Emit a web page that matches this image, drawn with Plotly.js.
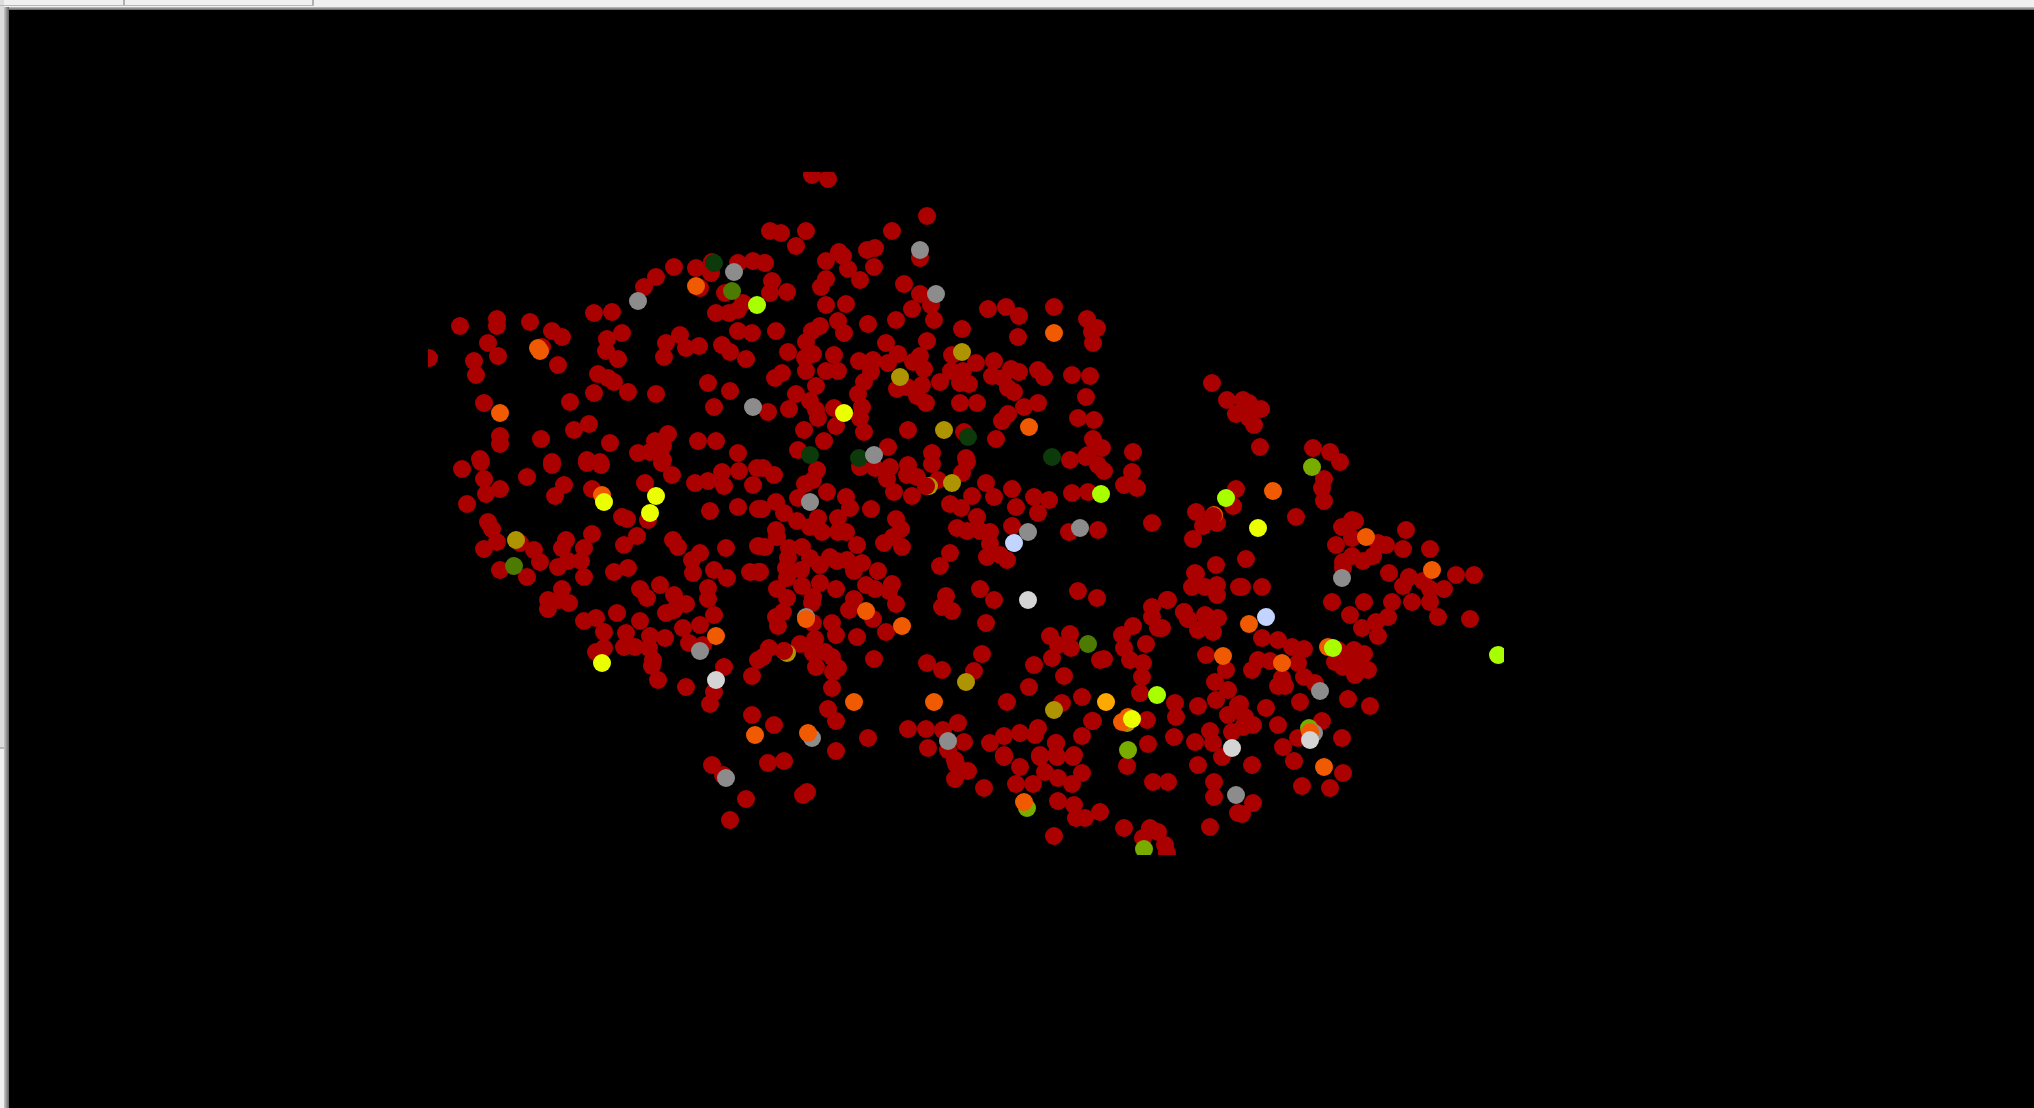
<!DOCTYPE html>
<html><head><meta charset="utf-8">
<script src="https://cdn.plot.ly/plotly-3.0.1.min.js"></script>
<style>
html,body{margin:0;padding:0;width:2034px;height:1108px;overflow:hidden;background:#f0f0f0}
.a{position:absolute}
#plot{position:absolute;left:9px;top:10px;width:2025px;height:1098px}
</style></head><body>
<div class="a" style="left:0;top:0;width:4px;height:747px;background:#dcdcdc"></div>
<div class="a" style="left:0;top:747px;width:4px;height:2px;background:#b8b8b8"></div>
<div class="a" style="left:123px;top:0;width:2px;height:6px;background:#b0b0b0"></div>
<div class="a" style="left:312px;top:0;width:2px;height:6px;background:#b0b0b0"></div>
<div class="a" style="left:0;top:5px;width:314px;height:1px;background:#b8b8b8"></div>
<div class="a" style="left:4px;top:7px;width:2030px;height:3px;background:linear-gradient(#c4c4c4,#606060)"></div>
<div class="a" style="left:4px;top:7px;width:5px;height:1101px;background:linear-gradient(90deg,#c8c8c8,#606060)"></div>
<div id="plot"></div>
<script>
const redX=[429,460,497,497,488,474,498,476,530,552,562,542,558,594,612,622,607,606,618,598,608,614,594,628,656,484,570,589,574,541,500,500,610,480,552,587,600,638,650,655,668,663,663,698,716,738,674,656,644,696,711,712,738,753,725,700,743,738,716,729,738,752,680,666,699,686,664,722,730,746,708,730,714,
812,828,927,770,781,806,892,796,765,920,826,839,843,848,867,875,874,860,826,821,772,770,787,826,846,904,920,931,912,934,896,868,838,820,812,844,776,806,788,813,805,834,886,898,927,962,988,1006,1019,1054,1018,1087,1092,1097,1093,952,976,994,859,873,888,920,913,924,963,951,806,826,838,782,775,871,864,940,960,969,922,907,897,816,858,796,810,917,926,960,977,992,1003,1011,1019,1038,1044,1072,1090,1008,1014,1086,1024,1038,1008,1002,1078,1094,1093,996,964,908,862,860,834,836,864,888,789,768,816,818,804,824,798,932,966,1070,1088,
462,481,484,500,486,527,552,564,555,467,592,587,601,645,662,672,695,708,722,724,739,753,757,710,738,758,622,627,648,488,492,497,484,520,534,540,500,527,592,566,562,584,581,568,558,584,637,624,673,678,700,692,693,726,714,727,750,758,758,614,628,640,647,660,674,686,708,708,714,700,683,665,674,666,640,617,626,650,649,635,624,653,652,658,689,703,724,752,758,714,710,686,752,712,604,596,584,604,596,562,548,559,569,548,
763,774,817,813,805,827,798,776,762,784,797,810,818,822,838,838,846,846,850,871,896,901,893,884,902,857,776,777,765,789,802,810,788,786,801,787,820,830,837,847,862,854,878,820,802,777,787,760,836,866,875,892,889,813,812,854,849,873,896,886,783,776,778,832,836,857,813,800,815,825,832,769,784,813,763,816,833,838,874,832,828,836,774,868,836,768,784,890,875,887,860,908,907,917,926,894,912,932,938,962,967,986,972,994,950,961,1012,1016,1034,1049,1038,1072,1088,977,957,967,980,990,990,987,1000,1007,1012,1069,1098,950,940,980,994,946,942,952,1078,1097,986,1050,1070,1058,1071,1052,982,927,942,974,1034,1064,1029,1100,1007,1062,1082,1092,1082,908,926,943,958,964,928,948,990,1004,1020,1035,1038,1056,1004,1040,1056,1074,955,
1216,1195,1192,1205,1217,1217,1239,1152,1152,1158,1167,1184,1188,1198,1205,1218,1212,1213,1133,1122,1124,1146,1130,1143,1142,1140,1104,1206,1226,1215,1228,1216,1175,1176,1198,1228,1238,1210,1232,1174,1195,1213,1222,1198,1147,1148,1127,1093,1153,1168,1214,1214,1238,1210,1124,1158,1150,1143,1165,1167,1100,1082,1073,1056,1057,1040,1004,1020,1045,1058,1072,1033,1016,984,956,968,955,1058,1074,1076,1085,1054,
1212,1227,1243,1249,1261,1236,1249,1254,1260,1313,1330,1340,1324,1322,1324,1236,1233,1196,1213,1203,1217,1193,1296,1352,1355,1342,1406,1352,1336,1378,1386,1403,1430,1352,1373,1363,1343,1343,1246,
1196,1242,1262,1168,1184,1188,1206,1162,1389,1409,1403,1423,1430,1444,1456,1474,1332,1364,1392,1412,1430,1388,1350,1376,1362,1378,1438,1470,1262,1278,1292,1304,1252,1258,1270,1298,1304,1282,1278,1285,1315,1340,1335,1354,1364,1343,1355,1355,1368,1338,1300,1348,1370,1266,1240,1245,1253,1243,1278,1322,1298,1283,1342,1294,1252,1343,1253,1242,1302,1330,
1102,1086,1098,1104,1133,1132,1124,1137,1152,723,746,730,803,807];
const redY=[358,326,319,326,343,361,356,375,322,331,337,347,365,313,312,333,339,351,359,374,378,382,393,392,394,403,402,424,430,439,436,444,443,459,462,460,462,453,452,441,434,446,460,441,441,453,267,277,287,268,273,262,263,261,293,288,303,310,313,313,331,333,335,343,346,348,357,345,352,359,383,391,407,
175,179,216,231,233,231,231,246,263,258,261,252,256,269,250,248,267,280,279,287,281,293,292,305,304,284,294,305,309,320,320,324,321,326,331,333,331,342,352,354,358,355,343,354,341,329,309,307,316,307,337,319,332,328,343,355,363,361,361,360,363,356,362,369,371,371,371,371,371,373,378,372,382,382,383,384,385,387,389,386,394,394,401,396,403,403,403,376,378,369,372,370,377,375,376,388,392,397,407,403,414,421,418,420,439,439,432,430,407,418,408,426,432,447,409,412,410,418,430,441,450,453,458,460,455,
469,462,479,489,494,477,465,485,496,504,489,463,465,483,463,475,483,481,472,486,471,485,468,511,507,509,517,519,520,522,529,542,549,543,550,562,570,577,534,540,548,548,561,561,567,577,536,545,540,547,553,560,573,548,570,578,572,572,546,572,568,589,598,585,595,604,588,599,615,625,628,638,610,613,621,613,633,636,648,647,647,660,666,680,643,645,667,676,660,692,704,687,715,765,632,618,621,648,652,589,600,600,603,609,
468,475,470,480,484,492,498,502,509,513,521,527,518,532,518,532,532,497,508,509,519,529,537,543,547,545,530,537,547,548,547,558,558,568,570,578,565,557,561,560,563,571,571,583,586,589,598,572,589,585,589,584,591,597,603,599,610,619,604,632,612,617,626,623,635,637,623,644,639,652,657,648,651,653,657,667,672,668,659,688,709,721,725,738,751,763,761,467,468,479,467,465,475,477,486,492,496,464,480,473,462,483,496,497,504,508,489,507,497,500,513,493,492,517,528,531,531,532,544,557,555,560,526,532,530,553,566,589,600,596,607,611,591,598,623,636,634,645,648,658,654,663,670,671,665,676,687,660,702,703,697,721,736,729,729,730,723,742,748,750,743,736,733,735,728,743,755,755,755,755,760,
565,573,587,587,585,595,587,607,617,628,600,612,619,630,615,618,623,632,626,635,648,644,660,663,677,693,659,655,670,682,690,700,703,717,706,715,705,731,732,737,742,743,757,765,720,744,766,721,782,782,782,797,813,827,828,832,828,838,845,853,812,773,757,743,757,757,757,767,772,778,784,784,784,788,764,771,779,801,805,818,818,836,
383,400,400,403,409,414,418,425,447,448,452,462,479,488,501,489,506,512,517,526,523,539,517,520,521,527,530,538,545,543,545,549,549,556,556,561,562,568,559,
574,587,587,600,612,619,616,628,573,577,586,581,589,589,575,575,602,602,602,602,602,617,615,622,628,636,617,619,638,640,647,649,670,660,661,663,677,678,686,686,683,657,662,650,654,667,663,675,670,650,702,699,706,708,704,717,725,727,725,721,738,747,738,761,765,773,803,814,786,788,
448,457,465,471,452,472,485,488,523,775,799,820,795,792];
const darkGreenX=[714,968,810,859,1052];
const darkGreenY=[263,437,455,458,457];
const oliveX=[732,514,1088];
const oliveY=[291,566,644];
const mustardX=[962,900,944,516,952,966,1054,787,1127,929];
const mustardY=[352,377,430,540,483,682,710,653,723,486];
const greenX=[1128,1144,1027,1312,1309];
const greenY=[750,849,808,467,728];
const greyX=[638,734,753,920,936,874,700,810,1028,1080,806,812,948,1314,1342,1320,1236,726];
const greyY=[301,272,407,250,294,455,651,502,532,528,617,738,741,733,578,691,795,778];
const orangeX=[696,538,540,500,1029,1054,602,716,755,866,902,806,854,934,808,1223,1024,1122,1128,1249,1282,1328,1310,1324,1432,1273,1366,1214];
const orangeY=[286,348,351,413,427,333,495,636,735,611,626,619,702,702,733,656,802,722,717,624,663,647,732,767,570,491,537,515];
const amberX=[1106];
const amberY=[702];
const yellowX=[844,604,656,650,602,1132,1258];
const yellowY=[413,502,496,513,663,719,528];
const limeX=[757,1101,1157,1333,1498,1226];
const limeY=[305,494,695,648,655,498];
const paleBlueX=[1014,1266];
const paleBlueY=[543,617];
const lightGreyX=[716,1028,1232,1310];
const lightGreyY=[680,600,748,740];
const redTopX=[784,926,1213];
const redTopY=[651,486,516];

const groups=[
 [redX,redY,'#aa0000'],
 [darkGreenX,darkGreenY,'#0c3a0a'],
 [oliveX,oliveY,'#4d7a00'],
 [mustardX,mustardY,'#ad9400'],
 [greenX,greenY,'#78ad00'],
 [greyX,greyY,'#8c8c8c'],
 [orangeX,orangeY,'#f05a00'],
 [amberX,amberY,'#ffa800'],
 [yellowX,yellowY,'#eaff00'],
 [limeX,limeY,'#a8ff00'],
 [paleBlueX,paleBlueY,'#c2d4ff'],
 [lightGreyX,lightGreyY,'#d4d4d4'],
 [redTopX,redTopY,'#aa0000']
];
const traces=groups.map(g=>({x:g[0],y:g[1],type:'scatter',mode:'markers',cliponaxis:true,hoverinfo:'skip',
  marker:{size:18,color:g[2],line:{width:0}}}));
const axis={visible:false,showgrid:false,zeroline:false,fixedrange:true};
Plotly.newPlot('plot',traces,{
 width:2025,height:1098,showlegend:false,
 paper_bgcolor:'#000',plot_bgcolor:'#000',
 margin:{l:419,r:530,t:162,b:253,pad:0},
 xaxis:Object.assign({range:[428,1504]},axis),
 yaxis:Object.assign({range:[855,172]},axis)
},{staticPlot:true,displayModeBar:false});
</script>
</body></html>
